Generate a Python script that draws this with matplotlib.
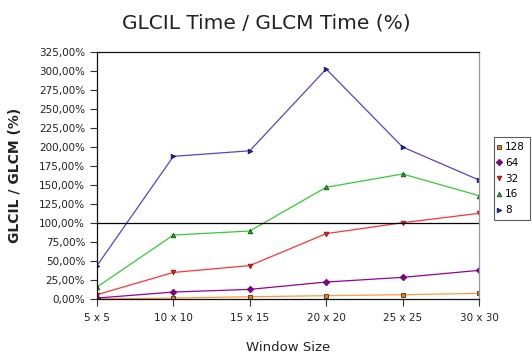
import matplotlib
matplotlib.use("Agg")
import matplotlib.pyplot as plt
from matplotlib.ticker import FuncFormatter

categories = ["5 x 5", "10 x 10", "15 x 15", "20 x 20", "25 x 25", "30 x 30"]
s128 = [0.0, 1.3, 3.0, 4.4, 5.7, 7.5]
s64 = [1.3, 9.2, 12.7, 22.4, 28.5, 37.7]
s32 = [5.7, 35.0, 44.0, 86.0, 100.4, 112.7]
s16 = [15.8, 84.2, 89.5, 147.0, 164.5, 136.0]
s8 = [43.9, 187.7, 195.0, 302.6, 200.0, 156.6]
yticks = list(range(0, 326, 25))

fig = plt.figure(figsize=(5.32, 3.56), dpi=100)
ax = fig.add_axes([0.1823, 0.160, 0.718, 0.694])
x = list(range(len(categories)))

series = [
    ("128", s128, "#ff9940", "s", "#ff7700", "#333333"),
    ("64", s64, "#990099", "D", "#880088", "#660066"),
    ("32", s32, "#ff3333", "v", "#ee1111", "#991111"),
    ("16", s16, "#33cc33", "^", "#22aa22", "#115511"),
    ("8", s8, "#5544cc", ">", "#2222aa", "#111166"),
]
for name, vals, lc, mk, mfc, mec in series:
    ax.plot(x, vals, color=lc, lw=0.9, marker=mk, markersize=3.3,
            markerfacecolor=mfc, markeredgecolor=mec, markeredgewidth=0.6,
            label=name)

ax.axhline(100, color="black", lw=0.9)
ax.set_xlim(0, len(categories) - 1)
ax.set_ylim(0, 325)
ax.set_yticks(yticks)
ax.yaxis.set_major_formatter(FuncFormatter(lambda v, p: f"{v:.2f}".replace(".", ",") + "%"))
ax.set_xticks(x)
ax.set_xticklabels(categories)
ax.tick_params(axis="both", labelsize=7.5, length=5, width=0.8, colors="#333333", labelcolor="#222222")
ax.tick_params(axis="x", pad=5)
for side in ["left", "bottom", "top"]:
    ax.spines[side].set_color("#111111")
    ax.spines[side].set_linewidth(0.9)
ax.spines["right"].set_color("#999999")
ax.spines["right"].set_linewidth(0.9)

ax.set_xlabel("Window Size", fontsize=9.5, color="#222222", labelpad=13)
ax.set_ylabel("GLCIL / GLCM (%)", fontsize=10, color="#222222", fontweight="bold", labelpad=12)
fig.text(0.5, 0.935, "GLCIL Time / GLCM Time (%)", ha="center", va="center", fontsize=14.5, color="#222222")

handles, labels = ax.get_legend_handles_labels()
leg = fig.legend(handles, labels, loc="upper left", bbox_to_anchor=(0.928, 0.615),
                 fontsize=7.5, frameon=True, handlelength=0, handletextpad=0.6,
                 borderpad=0.5, labelspacing=0.55, fancybox=False, borderaxespad=0)
for h in leg.legend_handles:
    h.set_linestyle("None")
leg.get_frame().set_edgecolor("#333333")
leg.get_frame().set_linewidth(0.8)

fig.savefig("out.png", dpi=100)
